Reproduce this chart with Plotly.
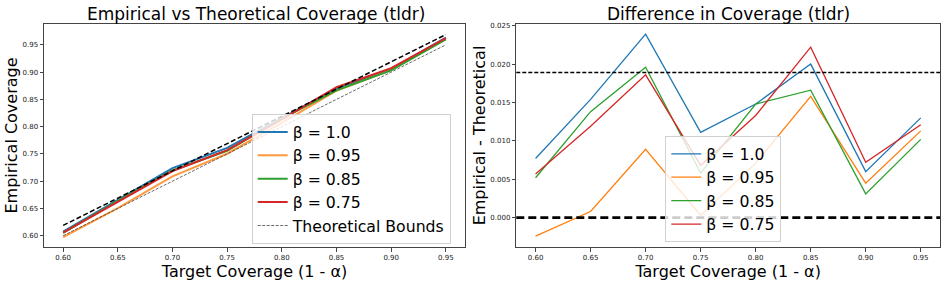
import plotly.graph_objects as go

target = [0.60, 0.65, 0.70, 0.75, 0.80, 0.85, 0.90, 0.95]
betas = ["β = 1.0", "β = 0.95", "β = 0.85", "β = 0.75"]

# Empirical coverage per beta
emp_b100 = [0.6077, 0.6654, 0.7239, 0.7611, 0.8148, 0.8700, 0.9060, 0.9630]
emp_b095 = [0.5976, 0.6508, 0.7089, 0.7503, 0.8071, 0.8658, 0.9045, 0.9613]
emp_b085 = [0.6052, 0.6638, 0.7196, 0.7558, 0.8148, 0.8666, 0.9031, 0.9602]
emp_b075 = [0.6057, 0.6619, 0.7186, 0.7568, 0.8133, 0.8722, 0.9072, 0.9621]

# Empirical - theoretical
diff_b100 = [0.0077, 0.0154, 0.0239, 0.0111, 0.0148, 0.0200, 0.0060, 0.0130]
diff_b095 = [-0.0024, 0.0008, 0.0089, 0.0003, 0.0071, 0.0158, 0.0045, 0.0113]
diff_b085 = [0.0052, 0.0138, 0.0196, 0.0058, 0.0148, 0.0166, 0.0031, 0.0102]
diff_b075 = [0.0057, 0.0119, 0.0186, 0.0068, 0.0133, 0.0222, 0.0072, 0.0121]

lower_bound = [0.60, 0.65, 0.70, 0.75, 0.80, 0.85, 0.90, 0.95]
upper_bound = [0.6189, 0.6689, 0.7189, 0.7689, 0.8189, 0.8689, 0.9189, 0.9689]
bound_gap = 0.0189

xticks = [0.60, 0.65, 0.70, 0.75, 0.80, 0.85, 0.90, 0.95]
yticks_left = [0.60, 0.65, 0.70, 0.75, 0.80, 0.85, 0.90, 0.95]
yticks_right = [0.000, 0.005, 0.010, 0.015, 0.020, 0.025]

colors = ["#1f77b4", "#ff7f0e", "#2ca02c", "#d62728"]
left_colors = ["#1f77b4", "rgba(255,127,14,0.8)", "#2ca02c", "#d62728"]

W, H = 947, 284
ML, MR, MT, MB = 44, 7, 23.5, 36.7
PW = W - ML - MR

def px_x(p):
    return (p - ML) / PW

def px_y(p):
    return (H - MB - p) / (H - MT - MB)

fig = go.Figure()
FONT = "DejaVu Sans"

emps = [emp_b100, emp_b095, emp_b085, emp_b075]
diffs = [diff_b100, diff_b095, diff_b085, diff_b075]

for name, ys, c in zip(betas, emps, left_colors):
    fig.add_trace(go.Scatter(x=target, y=ys, mode="lines", name=name,
                             line=dict(color=c, width=2), xaxis="x", yaxis="y",
                             legend="legend"))
fig.add_trace(go.Scatter(x=target, y=upper_bound, mode="lines", showlegend=False,
                         line=dict(color="black", width=1.5, dash="5px,2.5px"),
                         xaxis="x", yaxis="y"))
fig.add_trace(go.Scatter(x=target, y=lower_bound, mode="lines", name="Theoretical Bounds",
                         line=dict(color="#444444", width=0.8, dash="3px,1.5px"),
                         xaxis="x", yaxis="y", legend="legend"))

for name, ys, c in zip(betas, diffs, colors):
    fig.add_trace(go.Scatter(x=target, y=ys, mode="lines", name=name,
                             line=dict(color=c, width=1.3), xaxis="x2", yaxis="y2",
                             legend="legend2"))

fig.add_shape(type="line", xref="x2 domain", yref="y2", x0=0, x1=1, y0=bound_gap, y1=bound_gap,
              line=dict(color="black", width=1.4, dash="4px,2px"))
fig.add_shape(type="line", xref="x2 domain", yref="y2", x0=0, x1=1, y0=0, y1=0,
              line=dict(color="black", width=2.6, dash="8px,4px"))

axis_common = dict(showgrid=False, zeroline=False, showline=True, mirror=True,
                   linecolor="#444444", linewidth=1, ticks="outside", ticklen=3.5,
                   tickwidth=0.8, tickcolor="#444444",
                   tickfont=dict(family=FONT, size=7, color="#222222"))

fig.update_layout(
    width=W, height=H, margin=dict(l=ML, r=MR, t=MT, b=MB),
    paper_bgcolor="white", plot_bgcolor="white",
    font=dict(family=FONT, color="black"),
    xaxis=dict(domain=[0, px_x(465)], range=[0.5825, 0.9675], tickvals=xticks,
               ticktext=[f"{v:.2f}" for v in xticks],
               title=dict(text="Target Coverage (1 - α)", font=dict(size=16), standoff=2),
               **axis_common),
    yaxis=dict(domain=[0, 1], range=[0.5793, 0.9882], tickvals=yticks_left,
               ticktext=[f"{v:.2f}" for v in yticks_left],
               title=dict(text="Empirical Coverage", font=dict(size=16), standoff=0),
               **axis_common),
    xaxis2=dict(domain=[px_x(516.3), 1], range=[0.5825, 0.9675], tickvals=xticks,
                ticktext=[f"{v:.2f}" for v in xticks], anchor="y2",
                title=dict(text="Target Coverage (1 - α)", font=dict(size=16), standoff=2),
                **axis_common),
    yaxis2=dict(domain=[0, 1], range=[-0.00382, 0.02522], tickvals=yticks_right,
                ticktext=[f"{v:.3f}" for v in yticks_right], anchor="x2",
                title=dict(text="Empirical - Theoretical", font=dict(size=16), standoff=0),
                **axis_common),
    legend=dict(x=px_x(251.7), y=px_y(114), xanchor="left", yanchor="top",
                bgcolor="rgba(255,255,255,0.8)", bordercolor="#d0d0d0", borderwidth=1,
                font=dict(family=FONT, size=15.7, color="black")),
    legend2=dict(x=px_x(665.3), y=px_y(136), xanchor="left", yanchor="top",
                 bgcolor="rgba(255,255,255,0.8)", bordercolor="#d0d0d0", borderwidth=1,
                 font=dict(family=FONT, size=15.7, color="black")),
    annotations=[
        dict(text="Empirical vs Theoretical Coverage (tldr)", xref="paper", yref="paper",
             x=px_x(255.5), y=px_y(13), xanchor="center", yanchor="middle", showarrow=False,
             font=dict(family=FONT, size=17, color="black")),
        dict(text="Difference in Coverage (tldr)", xref="paper", yref="paper",
             x=px_x(728.2), y=px_y(13), xanchor="center", yanchor="middle", showarrow=False,
             font=dict(family=FONT, size=17, color="black")),
    ],
)

# remove the browser's default 8px body margin so the figure fills the window
fig.write_html("out.html", config={"displayModeBar": False},
               post_script="document.body.style.margin='0';")
